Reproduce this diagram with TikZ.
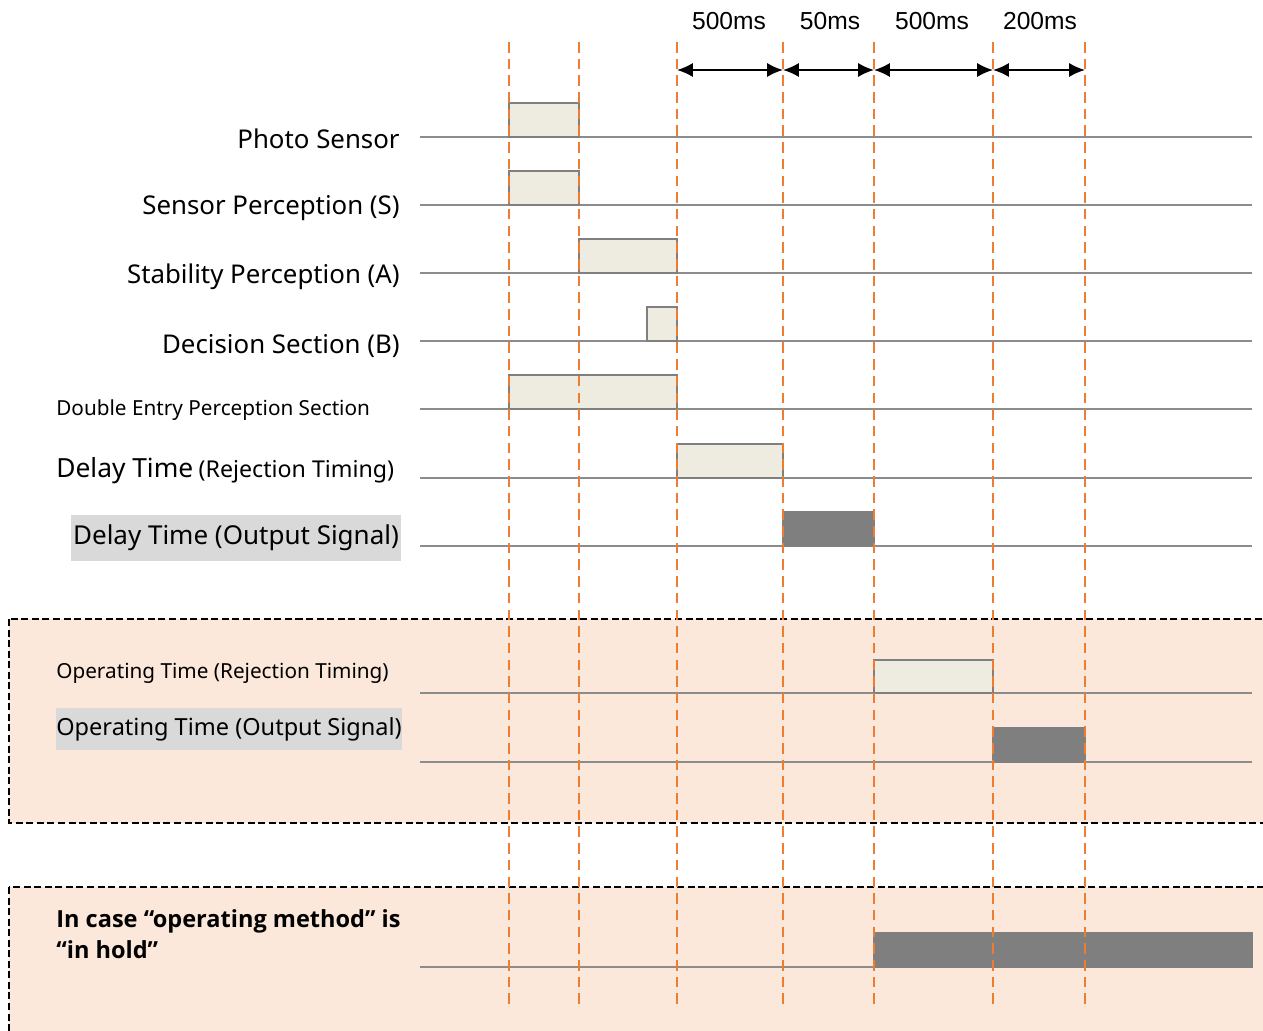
\documentclass[tikz,border=0pt]{standalone}
\usepackage{fontspec}
\setmainfont{Noto Sans}
\newfontfamily\msfont{Liberation Sans}
\newfontfamily\holdfont{Open Sans}
\usetikzlibrary{arrows.meta}

\definecolor{markorange}{HTML}{ED7D31}
\definecolor{linegray}{HTML}{8C8C8C}
\definecolor{edgegray}{HTML}{7F7F7F}
\definecolor{pulsebeige}{HTML}{EEECE1}
\definecolor{casepeach}{HTML}{FCE8DA}
\definecolor{labelgray}{HTML}{D9D9D9}

\tikzset{
  timeline/.style={draw=linegray,line width=1.3pt},
  pulse/.style={fill=pulsebeige,draw=edgegray,line width=1.4pt},
  darkpulse/.style={fill=edgegray,draw=edgegray,line width=1.4pt},
  timemark/.style={draw=markorange,line width=1.5pt,dash pattern=on 6pt off 3.5pt},
  spanarrow/.style={{Latex[length=9pt,width=8pt]}-{Latex[length=9pt,width=8pt]},line width=1.1pt},
  casebox/.style={fill=casepeach,draw=black,line width=1.1pt,dash pattern=on 4pt off 2pt},
  siglabel/.style={anchor=east,inner sep=0pt,font=\fontsize{14.7}{17}\selectfont},
  smalllabel/.style={anchor=west,inner sep=0pt,font=\fontsize{11.8}{14}\selectfont},
  graylabel/.style={fill=labelgray,inner xsep=1pt,minimum height=26pt,font=\fontsize{14.8}{17}\selectfont},
  mslabel/.style={font=\msfont\fontsize{14}{16}\selectfont}
}

\begin{document}
\begin{tikzpicture}[x=0.02cm,y=-0.02cm]
\clip (0,0) rectangle (1263,1030);
\fill[white] (0,0) rectangle (1263,1030);

% shaded cases
\path[casebox] (9,619) rectangle (1280,823);
\path[casebox] (9,887) rectangle (1280,1050);

% time spans
\coordinate (a0) at (677,70);
\coordinate (a1) at (783,70);
\coordinate (a2) at (874,70);
\coordinate (a3) at (993,70);
\coordinate (a4) at (1085,70);
\draw[spanarrow] (a0) -- (a1);
\draw[spanarrow] (a1) -- (a2);
\draw[spanarrow] (a2) -- (a3);
\draw[spanarrow] (a3) -- (a4);
\node[mslabel] (ms1) at (729,21) {500ms};
\node[mslabel] (ms2) at (830,21) {50ms};
\node[mslabel] (ms3) at (932,21) {500ms};
\node[mslabel] (ms4) at (1040,21) {200ms};

% signal labels
\node[siglabel] (photo) at (400,139) {Photo Sensor};
\node[siglabel] (sense) at (400,208) {Sensor Perception (S)};
\node[siglabel] (stab) at (400,277) {Stability Perception (A)};
\node[siglabel] (decide) at (400,346) {Decision Section (B)};
\node[smalllabel] (double) at (56,410) {Double Entry Perception Section};
\node[smalllabel] (delayrt) at (56,471) {{\fontsize{15}{17}\selectfont Delay Time} {\fontsize{13.2}{15}\selectfont(Rejection Timing)}};
\node[graylabel,anchor=east] (delayos) at (401,538) {Delay Time (Output Signal)};
\node[smalllabel] (operrt) at (56,673) {Operating Time (Rejection Timing)};
\node[graylabel,anchor=west,inner xsep=0pt,minimum height=24pt,font=\fontsize{13.4}{15}\selectfont] (operos) at (56,729) {Operating Time (Output Signal)\hspace{1pt}};
\node[anchor=north west,inner sep=0pt,align=left,font=\holdfont\bfseries\fontsize{13.4}{17.6}\selectfont] (hold) at (56,909) {In case “operating method” is\\“in hold”};

% time lines
\draw[timeline] (420,137) -- (1252,137);
\draw[timeline] (420,205) -- (1252,205);
\draw[timeline] (420,273) -- (1252,273);
\draw[timeline] (420,341) -- (1252,341);
\draw[timeline] (420,409) -- (1252,409);
\draw[timeline] (420,478) -- (1252,478);
\draw[timeline] (420,546) -- (1252,546);
\draw[timeline] (420,693) -- (1252,693);
\draw[timeline] (420,762) -- (1252,762);
\draw[timeline] (420,967) -- (1252,967);

% pulses
\path[pulse] (509,103) rectangle (579,137);
\path[pulse] (509,171) rectangle (579,205);
\path[pulse] (579,239) rectangle (677,273);
\path[pulse] (647,307) rectangle (677,341);
\path[pulse] (509,375) rectangle (677,409);
\path[pulse] (677,444) rectangle (783,478);
\path[darkpulse] (783,512) rectangle (874,546);
\path[pulse] (874,660) rectangle (993,693);
\path[darkpulse] (993,728) rectangle (1085,762);
\path[darkpulse] (874,933) rectangle (1252,967);

% time marks
\foreach \x in {509,579,677,783,874,993,1085}
  \draw[timemark] (\x,42) -- (\x,1005);
\end{tikzpicture}
\end{document}
